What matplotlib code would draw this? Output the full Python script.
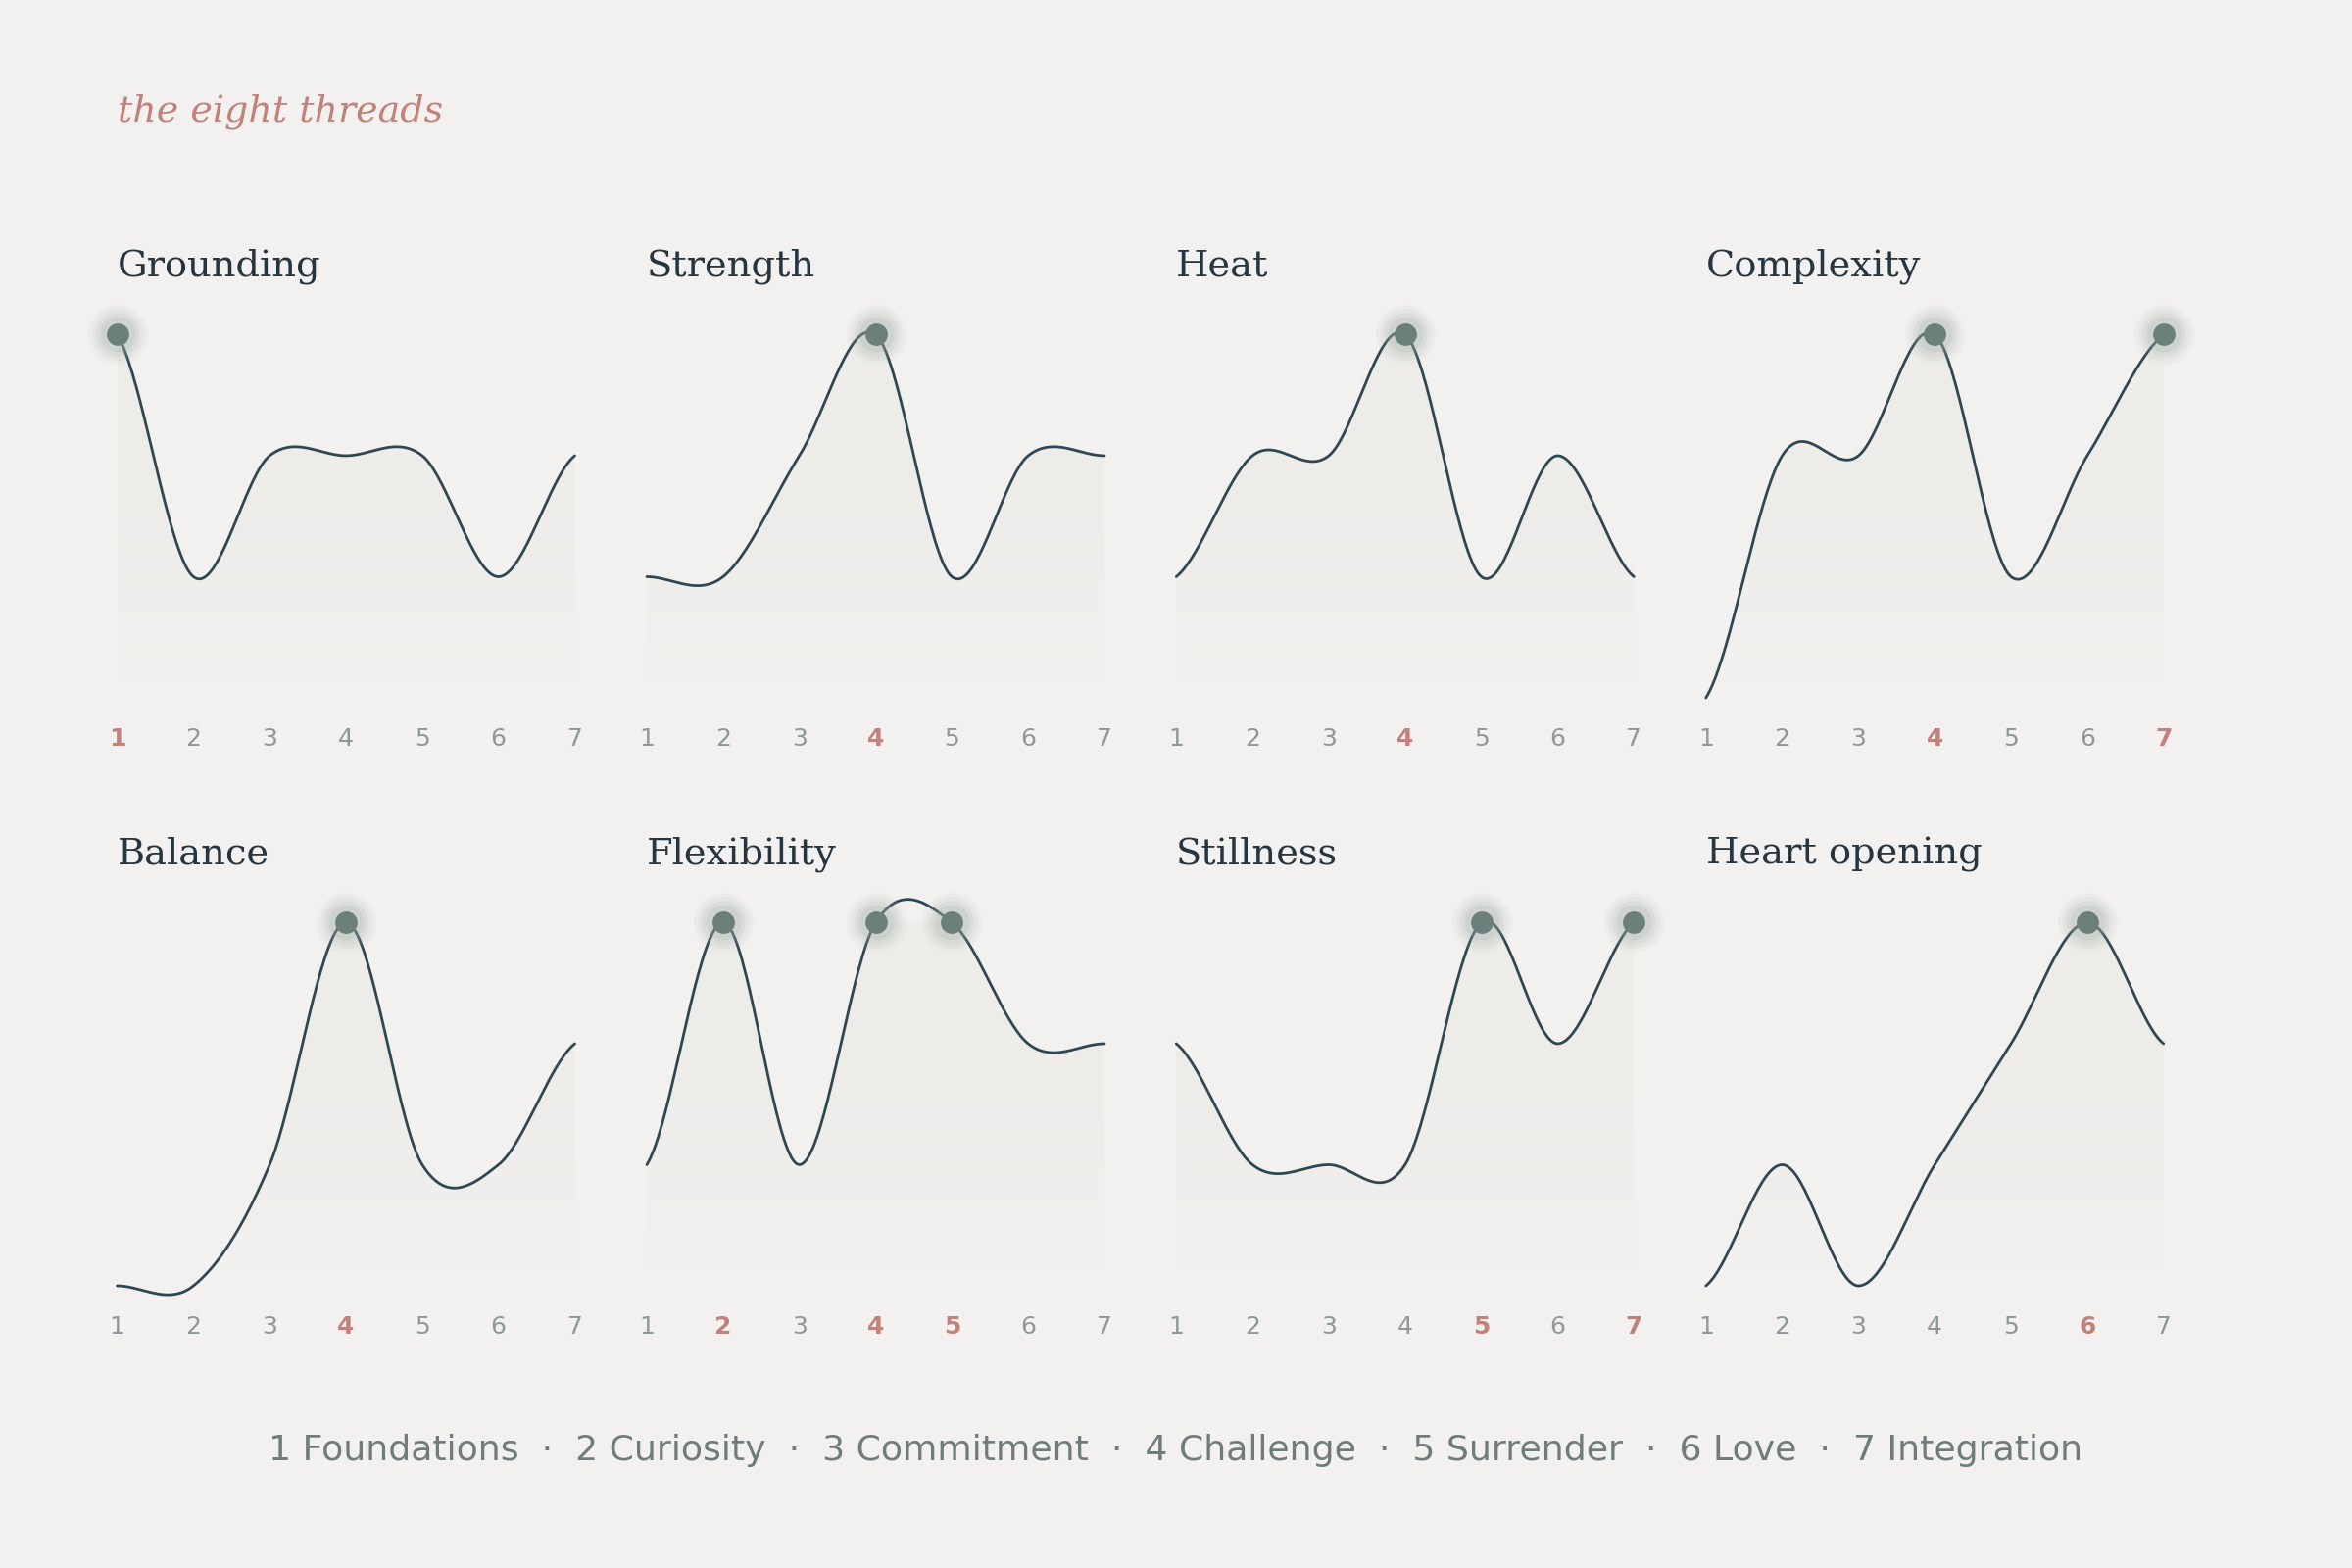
import matplotlib
matplotlib.use("Agg")
import matplotlib.pyplot as plt
import numpy as np

# stages along the x axis
stages = [1, 2, 3, 4, 5, 6, 7]
stage_names = ["Foundations", "Curiosity", "Commitment", "Challenge",
               "Surrender", "Love", "Integration"]

# one small series per thread (0 = low ... 3 = peak)
threads = ["Grounding", "Strength", "Heat", "Complexity",
           "Balance", "Flexibility", "Stillness", "Heart opening"]
grounding = [3, 1, 2, 2, 2, 1, 2]
strength = [1, 1, 2, 3, 1, 2, 2]
heat = [1, 2, 2, 3, 1, 2, 1]
complexity = [0, 2, 2, 3, 1, 2, 3]
balance = [0, 0, 1, 3, 1, 1, 2]
flexibility = [1, 3, 1, 3, 3, 2, 2]
stillness = [2, 1, 1, 1, 3, 2, 3]
heart_opening = [0, 1, 0, 1, 2, 3, 2]
series = [grounding, strength, heat, complexity,
          balance, flexibility, stillness, heart_opening]

BG = "#f3f1ef"
INK = "#263640"
LINE = "#2f4753"
ROSE = "#c0827a"
TICK = "#8e9899"
DOT = "#6b7f7b"
HALO = "#a3b0a9"
LEGEND = "#6f7d7a"


def catmull_rom(x, y, n=40):
    # cardinal spline (tension 0), end tangents from one-sided differences
    x = np.asarray(x, float)
    y = np.asarray(y, float)
    m = np.zeros_like(y)
    m[1:-1] = (y[2:] - y[:-2]) / 2
    m[0] = (y[1] - y[0]) / 2
    m[-1] = (y[-1] - y[-2]) / 2
    xs, ys = [], []
    for i in range(len(x) - 1):
        t = np.linspace(0, 1, n, endpoint=(i == len(x) - 2))
        h00 = 2 * t**3 - 3 * t**2 + 1
        h10 = t**3 - 2 * t**2 + t
        h01 = -2 * t**3 + 3 * t**2
        h11 = t**3 - t**2
        xs.append(x[i] + t * (x[i + 1] - x[i]))
        ys.append(h00 * y[i] + h10 * m[i] + h01 * y[i + 1] + h11 * m[i + 1])
    return np.concatenate(xs), np.concatenate(ys)


fig = plt.figure(figsize=(12, 8), dpi=200, facecolor=BG)

fig.text(0.0498, 0.929, "the eight threads", family="DejaVu Serif",
         style="italic", fontsize=13.7, color=ROSE, va="center", ha="left")

col_left = [0.0498, 0.2750, 0.5001, 0.7253]
row_bottom = [0.555, 0.180]
w, h = 0.1946, 0.2316

# vertical fade for the area under each curve
gy = np.linspace(0, 3.3, 300)
alpha = np.clip((gy - 0.1) / 1.5, 0, 1) * 0.55
rgba = np.zeros((len(gy), 1, 4))
rgba[:, 0, :3] = np.array([0.915, 0.910, 0.900])
rgba[:, 0, 3] = alpha

for k, (name, vals) in enumerate(zip(threads, series)):
    r, c = divmod(k, 4)
    ax = fig.add_axes([col_left[c], row_bottom[r], w, h])
    ax.set_facecolor("none")
    ax.axis("off")

    xs, ys = catmull_rom(stages, vals)

    im = ax.imshow(rgba, extent=(1, 7, 0, 3.3), origin="lower",
                   aspect="auto", zorder=1, interpolation="bilinear")
    area = ax.fill_between(xs, ys, 0, color="none", lw=0)
    im.set_clip_path(area.get_paths()[0], transform=ax.transData)

    ax.plot(xs, ys, color=LINE, lw=1.0, zorder=3, clip_on=False,
            solid_capstyle="round")

    top = max(vals)
    px = [s for s, v in zip(stages, vals) if v == top]
    py = [top] * len(px)
    for size, a in [(22, 0.08), (19, 0.10), (16, 0.14), (13, 0.20)]:
        ax.plot(px, py, "o", ms=size, color=HALO, alpha=a, mew=0,
                zorder=4, clip_on=False)
    ax.plot(px, py, "o", ms=8.2, color=DOT, mew=0, zorder=5, clip_on=False)

    for s in stages:
        hot = s in px
        ax.text(s, -0.34, str(s), ha="center", va="center", fontsize=9,
                color=ROSE if hot else TICK,
                fontweight="bold" if hot else "normal", clip_on=False)

    ax.text(1, 3.565, name, family="DejaVu Serif", fontsize=13.8, color=INK,
            ha="left", va="center", clip_on=False)

    ax.set_xlim(1, 7)
    ax.set_ylim(0, 3)

legend = "  \u00b7  ".join(f"{s} {n}" for s, n in zip(stages, stage_names))
fig.text(0.5, 0.075, legend, ha="center", va="center", fontsize=13.05,
         color=LEGEND)

fig.savefig("out.png", dpi=200, facecolor=BG)
